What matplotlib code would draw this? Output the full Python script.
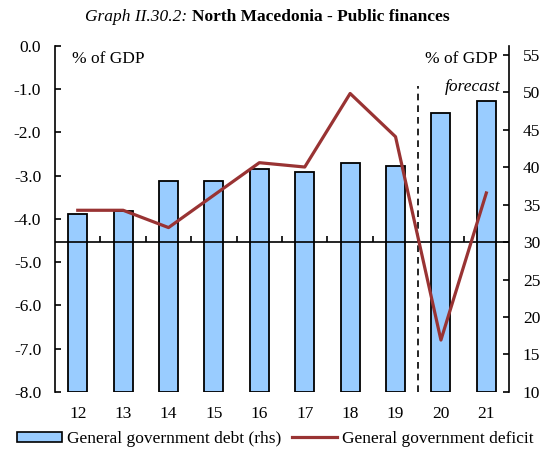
import matplotlib
matplotlib.use("Agg")
import matplotlib.pyplot as plt
from matplotlib.patches import Patch
from matplotlib.lines import Line2D
import numpy as np

years = [12, 13, 14, 15, 16, 17, 18, 19, 20, 21]
debt = [33.8, 34.1, 38.1, 38.1, 39.8, 39.4, 40.5, 40.1, 47.2, 48.8]
deficit = [-3.8, -3.8, -4.2, -3.45, -2.7, -2.8, -1.1, -2.1, -6.8, -3.4]
forecast_start = 19.5

BAR_COLOR = "#99CCFF"
LINE_COLOR = "#993333"

plt.rcParams["font.family"] = ["Liberation Serif", "DejaVu Serif"]
plt.rcParams["font.size"] = 12.5

fig = plt.figure(figsize=(5.45, 4.5), dpi=100)
ax = fig.add_axes([0.101, 0.129, 0.833, 0.769])
ax2 = ax.twinx()

# debt bars on the right-hand scale, drawn up from the axis bottom
ax.bar(years, np.array(debt) - 10, bottom=10, width=0.42, color=BAR_COLOR,
       edgecolor="black", linewidth=1.3, zorder=2)
ax.set_ylim(10, 56.2)
ax.set_xlim(11.5, 21.5)
ax.yaxis.tick_right()
ax.set_yticks(np.arange(10, 56, 5))
ax.tick_params(axis="y", direction="in", length=4, width=1.2, pad=10)
ax.set_xticks(years)
ax.tick_params(axis="x", length=0, pad=10)
for s in ["top", "bottom", "left"]:
    ax.spines[s].set_visible(False)
ax.spines["right"].set_linewidth(1.2)

# zero line of the chart with small category separators
ax.axhline(30, color="black", linewidth=1.2, zorder=3)
sec = ax.secondary_xaxis((30 - 10) / (56.2 - 10))
sec.set_xticks(np.arange(12.5, 21, 1))
sec.tick_params(direction="in", length=4, width=1.2, labelbottom=False, labeltop=False)
for s in sec.spines.values():
    s.set_visible(False)

ax.vlines(forecast_start, 10, 50.9, colors="black", linestyles=(0, (4, 3)),
          linewidth=1.2, zorder=3)

# deficit line on the left-hand scale
ax2.plot(years, deficit, color=LINE_COLOR, linewidth=2.3, zorder=4)
ax2.set_ylim(-8, 0)
ax2.yaxis.tick_left()
ax2.set_yticks(np.arange(-8, 0.1, 1))
ax2.set_yticklabels([f"{v:.1f}" for v in np.arange(-8, 0.1, 1)])
ax2.tick_params(axis="y", direction="in", length=4, width=1.2, pad=10)
for s in ["top", "bottom", "right"]:
    ax2.spines[s].set_visible(False)
ax2.spines["left"].set_linewidth(1.2)

ax2.text(0.037, 0.985, "% of GDP", transform=ax2.transAxes, ha="left", va="top")
ax2.text(0.975, 0.985, "% of GDP", transform=ax2.transAxes, ha="right", va="top")
ax2.text(0.982, 0.88, "forecast", transform=ax2.transAxes, ha="right",
         va="center", style="italic")

fig.text(0.352, 0.962, "Graph II.30.2: ", ha="right", va="center", style="italic")
fig.text(0.352, 0.962, "North Macedonia - Public finances", ha="left",
         va="center", weight="bold")

handles = [Patch(facecolor=BAR_COLOR, edgecolor="black", linewidth=1.2),
           Line2D([], [], color=LINE_COLOR, linewidth=2.3)]
labels = ["General government debt (rhs)", "General government deficit"]
fig.legend(handles, labels, loc="lower center", bbox_to_anchor=(0.505, -0.028),
           ncol=2, frameon=False, handlelength=2.6, handleheight=0.55,
           handletextpad=0.3, columnspacing=0.6)

fig.savefig("out.png", dpi=100)
